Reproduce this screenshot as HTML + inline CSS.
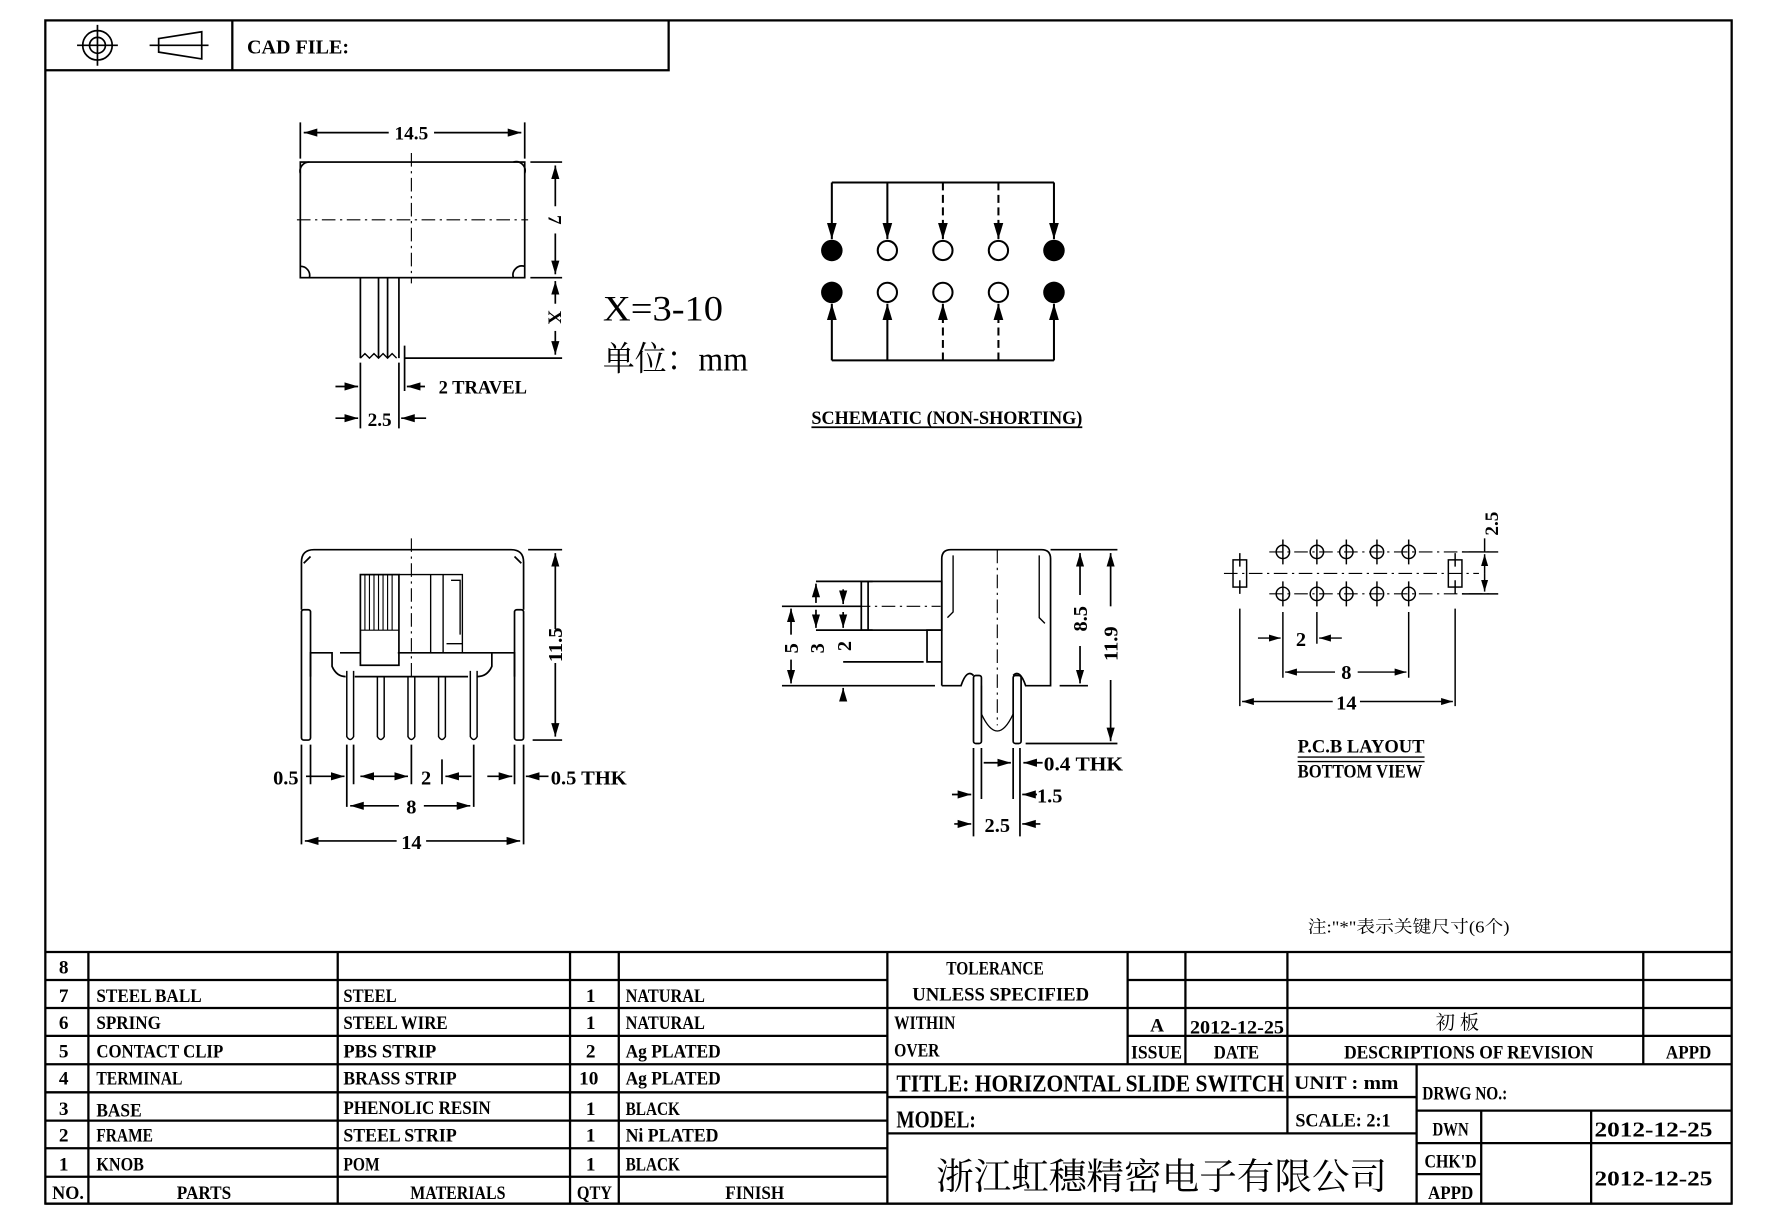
<!DOCTYPE html>
<html><head><meta charset="utf-8"><style>
html,body{margin:0;padding:0;background:#fff;}
svg{display:block;}
text{font-family:"Liberation Serif","Noto Serif CJK SC",serif;font-weight:bold;fill:#000;}
.cj{font-family:"Liberation Serif","Noto Serif CJK SC",serif;font-weight:normal;}
</style></head><body>
<svg width="1777" height="1224" viewBox="0 0 1568 1080" preserveAspectRatio="none" xmlns="http://www.w3.org/2000/svg">
<defs>
<marker id="a" viewBox="0 0 10 6" refX="10" refY="3" markerWidth="8" markerHeight="5" orient="auto-start-reverse"><path d="M0,0 L10,3 L0,6z" fill="#000"/></marker>
</defs>
<g fill="none" stroke="#000" stroke-width="1.5">
<rect x="40" y="18" width="1488" height="1044" stroke-width="2"/>
<path d="M40,62 H590 V18 M205,18 V62" stroke-width="2"/>
<circle cx="86" cy="40" r="13"/><circle cx="86" cy="40" r="7"/>
<path d="M68,40 H104 M86,22 V58"/>
<path d="M140,34 L178,28 V52 L140,46 Z M132,40 H184"/>
</g>
<text x="218" y="47" font-size="18" textLength="90" lengthAdjust="spacingAndGlyphs">CAD FILE:</text>

<!-- TOP VIEW -->
<g fill="none" stroke="#000" stroke-width="1.5">
<rect x="265" y="143" width="198" height="102"/>
<path d="M265,153 A8,8 0 0 1 273,143 M453,143 A8,8 0 0 1 463,153 M265,235 A8,8 0 0 1 273,245 M453,245 A8,8 0 0 1 463,235" />
<path d="M262,194 H466 M363,135 V250" stroke-width="1" stroke-dasharray="12,4,2,4"/>
<path d="M265,108 V140 M463,108 V140"/>
<path d="M343,117 H268" marker-end="url(#a)"/>
<path d="M383,117 H460" marker-end="url(#a)"/>
<path d="M468,143 H496 M468,245 H496 M357,316 H496"/>
<path d="M490,182 V146" marker-end="url(#a)"/>
<path d="M490,206 V242" marker-end="url(#a)"/>
<path d="M490,268 V248" marker-end="url(#a)"/>
<path d="M490,292 V313" marker-end="url(#a)"/>
<path d="M318,245 V316 M352,245 V316 M334,245 V316 M342,245 V316"/>
<path d="M318,316 l4,-4 l4,4 l4,-4 l4,4 l4,-4 l4,4 l4,-4 l4,4" stroke-width="1.2"/>
<path d="M357,305 V345 M318,320 V378 M352,320 V378"/>
<path d="M375,341 H359" marker-end="url(#a)"/>
<path d="M296,341 H316" marker-end="url(#a)"/>
<path d="M296,369 H316" marker-end="url(#a)"/>
<path d="M376,369 H354" marker-end="url(#a)"/>
</g>
<text x="363" y="123" font-size="17" text-anchor="middle">14.5</text>
<text x="0" y="0" font-size="17" transform="translate(484,194) rotate(90)" text-anchor="middle">7</text>
<text x="0" y="0" font-size="17" transform="translate(484,280) rotate(90)" text-anchor="middle">X</text>
<text x="387" y="347" font-size="17" textLength="78" lengthAdjust="spacingAndGlyphs">2 TRAVEL</text>
<text x="335" y="376" font-size="17" text-anchor="middle">2.5</text>
<text x="532" y="283" font-size="32" class="cj" textLength="106" lengthAdjust="spacingAndGlyphs">X=3-10</text>
<text x="532" y="327" font-size="30" class="cj" textLength="128" lengthAdjust="spacingAndGlyphs">单位：mm</text>

<!-- SCHEMATIC -->
<g fill="none" stroke="#000" stroke-width="1.8">
<path d="M734,161 H930 M734,318 H930"/>
<path d="M734,161 V211" marker-end="url(#a)"/>
<path d="M783,161 V211" marker-end="url(#a)"/>
<path d="M930,161 V211" marker-end="url(#a)"/>
<path d="M734,318 V268" marker-end="url(#a)"/>
<path d="M783,318 V268" marker-end="url(#a)"/>
<path d="M930,318 V268" marker-end="url(#a)"/>
<path d="M832,161 V211" stroke-dasharray="7,4" marker-end="url(#a)"/>
<path d="M881,161 V211" stroke-dasharray="7,4" marker-end="url(#a)"/>
<path d="M832,318 V268" stroke-dasharray="7,4" marker-end="url(#a)"/>
<path d="M881,318 V268" stroke-dasharray="7,4" marker-end="url(#a)"/>
<circle cx="783" cy="221" r="8.5"/><circle cx="832" cy="221" r="8.5"/><circle cx="881" cy="221" r="8.5"/>
<circle cx="783" cy="258" r="8.5"/><circle cx="832" cy="258" r="8.5"/><circle cx="881" cy="258" r="8.5"/>
<path d="M716,377 H955" stroke-width="1.5"/>
</g>
<g fill="#000"><circle cx="734" cy="221" r="9.5"/><circle cx="930" cy="221" r="9.5"/><circle cx="734" cy="258" r="9.5"/><circle cx="930" cy="258" r="9.5"/></g>
<text x="716" y="374" font-size="17" textLength="239" lengthAdjust="spacingAndGlyphs">SCHEMATIC (NON-SHORTING)</text>

<!-- FRONT VIEW -->
<g fill="none" stroke="#000" stroke-width="1.5">
<path d="M266,538 V496 Q266,485 277,485 H451 Q462,485 462,496 V538"/>
<path d="M268,497 l6,-6 M460,497 l-6,-6" />
<rect x="266" y="538" width="8" height="115" rx="2"/>
<rect x="454" y="538" width="8" height="115" rx="2"/>
<path d="M274,597 V576 H293 V588 Q297,597 305,597 M313,597 H413 M421,597 Q430,597 434,588 V576 H454 V597"/>
<path d="M300,576 H318 M351,576 H434"/>
<rect x="318" y="507" width="34" height="80"/>
<path d="M318,556 H352 M322,507 V556 M326,507 V556 M330,507 V556 M334,507 V556 M338,507 V556 M342,507 V556 M346,507 V556" stroke-width="1"/>
<path d="M352,507 H408 V576 M380,507 V576 M391,507 V576 M398,512 H406 V560 M394,568 H408" stroke-width="1.2"/>
<path d="M363,475 V600" stroke-width="1" stroke-dasharray="12,4,2,4"/>
<g stroke-width="1.3">
<path d="M306,592 V650 Q309,655 312,650 V592"/>
<path d="M333,597 V650 Q336,655 339,650 V597"/>
<path d="M360,597 V650 Q363,655 366,650 V597"/>
<path d="M387,597 V650 Q390,655 393,650 V597"/>
<path d="M415,592 V650 Q418,655 421,650 V592"/>
</g>
<path d="M466,485 H496 M470,653 H496"/>
<path d="M490,555 V488" marker-end="url(#a)"/>
<path d="M490,585 V650" marker-end="url(#a)"/>
<path d="M266,657 V745 M462,657 V745 M274,657 V692 M306,657 V712 M312,657 V692 M363,657 V692 M390,670 V692 M418,657 V712 M454,657 V692"/>
<path d="M270,685 H304" marker-end="url(#a)"/>
<path d="M318,685 H360" marker-start="url(#a)" marker-end="url(#a)"/>
<path d="M393,685 H416" marker-start="url(#a)"/>
<path d="M430,685 H452" marker-end="url(#a)"/>
<path d="M484,685 H464" marker-end="url(#a)"/>
<path d="M352,711 H309" marker-end="url(#a)"/><path d="M374,711 H415" marker-end="url(#a)"/>
<path d="M350,742 H269" marker-end="url(#a)"/><path d="M376,742 H459" marker-end="url(#a)"/>
</g>
<text x="0" y="0" font-size="18" transform="translate(496,569) rotate(-90)" text-anchor="middle">11.5</text>
<text x="241" y="692" font-size="18">0.5</text>
<text x="376" y="692" font-size="18" text-anchor="middle">2</text>
<text x="486" y="692" font-size="18" textLength="67" lengthAdjust="spacingAndGlyphs">0.5 THK</text>
<text x="363" y="718" font-size="18" text-anchor="middle">8</text>
<text x="363" y="749" font-size="18" text-anchor="middle">14</text>

<!-- SIDE VIEW -->
<g fill="none" stroke="#000" stroke-width="1.5">
<path d="M831,605 V493 Q831,485 839,485 H919 Q927,485 927,493 V605 H905 Q900,590 894,596 M859,596 Q853,590 848,605 H831"/>
<path d="M841,490 V540 L836,545 M917,490 V545 L922,550" stroke-width="1.2"/>
<rect x="760" y="513" width="71" height="43"/>
<path d="M766,513 V556"/>
<path d="M831,556 H818 V584 H831"/>
<path d="M880,485 V640" stroke-width="1" stroke-dasharray="12,4,2,4"/>
<path d="M690,535 H830" stroke-width="1" stroke-dasharray="12,4,2,4"/>
<rect x="859" y="596" width="7" height="60" rx="2"/>
<rect x="894" y="596" width="7" height="60" rx="2"/>
<path d="M866,605 V630 Q880,660 894,630 V605" stroke-width="1.2"/>
<path d="M720,513 H770 M690,535 H760 M720,556 H770 M744,584 H815 M690,605 H825"/>
<path d="M698,560 V537" marker-end="url(#a)"/>
<path d="M698,582 V603" marker-end="url(#a)"/>
<path d="M720,532 V515" marker-end="url(#a)"/>
<path d="M720,538 V554" marker-end="url(#a)"/>
<path d="M744,520 V533" marker-end="url(#a)"/>
<path d="M744,540 V554" marker-end="url(#a)"/>
<path d="M744,618 V607" marker-end="url(#a)"/>
<path d="M927,485 H986 M935,605 H960 M905,656 H986"/>
<path d="M953,525 V488" marker-end="url(#a)"/>
<path d="M953,570 V603" marker-end="url(#a)"/>
<path d="M980,535 V488" marker-end="url(#a)"/>
<path d="M980,600 V654" marker-end="url(#a)"/>
<path d="M859,660 V738 M866,660 V705 M894,660 V705 M900,660 V738"/>
<path d="M868,673 H892" marker-end="url(#a)"/>
<path d="M920,673 H903" marker-end="url(#a)"/>
<path d="M840,701 H857" marker-end="url(#a)"/>
<path d="M915,701 H902" marker-end="url(#a)"/>
<path d="M842,727 H857" marker-end="url(#a)"/>
<path d="M918,727 H902" marker-end="url(#a)"/>
</g>
<text x="0" y="0" font-size="18" transform="translate(704,572) rotate(-90)" text-anchor="middle">5</text>
<text x="0" y="0" font-size="18" transform="translate(727,572) rotate(-90)" text-anchor="middle">3</text>
<text x="0" y="0" font-size="18" transform="translate(751,570) rotate(-90)" text-anchor="middle">2</text>
<text x="0" y="0" font-size="18" transform="translate(959,546) rotate(-90)" text-anchor="middle">8.5</text>
<text x="0" y="0" font-size="18" transform="translate(986,568) rotate(-90)" text-anchor="middle">11.9</text>
<text x="921" y="680" font-size="18" textLength="70" lengthAdjust="spacingAndGlyphs">0.4 THK</text>
<text x="915" y="708" font-size="18">1.5</text>
<text x="880" y="734" font-size="18" text-anchor="middle">2.5</text>

<!-- PCB LAYOUT -->
<g fill="none" stroke="#000" stroke-width="1.3">
<path d="M1120,487 H1315 M1120,524 H1315" stroke-dasharray="12,4,2,4" stroke-width="1"/>
<path d="M1080,506 H1305" stroke-dasharray="12,4,2,4" stroke-width="1"/>
<circle cx="1132" cy="487" r="5.9"/><circle cx="1162" cy="487" r="5.9"/><circle cx="1188" cy="487" r="5.9"/><circle cx="1215" cy="487" r="5.9"/><circle cx="1243" cy="487" r="5.9"/>
<circle cx="1132" cy="524" r="5.9"/><circle cx="1162" cy="524" r="5.9"/><circle cx="1188" cy="524" r="5.9"/><circle cx="1215" cy="524" r="5.9"/><circle cx="1243" cy="524" r="5.9"/>
<path d="M1132,476 V498 M1162,476 V498 M1188,476 V498 M1215,476 V498 M1243,476 V498 M1132,513 V535 M1162,513 V535 M1188,513 V535 M1215,513 V535 M1243,513 V535"/>
<rect x="1088" y="494" width="12" height="24"/><rect x="1278" y="494" width="12" height="24"/>
<path d="M1094,488 V500 M1094,512 V524 M1284,488 V500 M1284,512 V524"/>
<path d="M1094,537 V623 M1284,537 V623 M1132,540 V598 M1162,540 V568 M1243,540 V598"/>
<path d="M1110,563 H1130" marker-end="url(#a)"/>
<path d="M1184,563 H1164" marker-end="url(#a)"/>
<path d="M1178,593 H1134" marker-end="url(#a)"/><path d="M1198,593 H1241" marker-end="url(#a)"/>
<path d="M1176,619 H1096" marker-end="url(#a)"/><path d="M1200,619 H1282" marker-end="url(#a)"/>
<path d="M1290,487 H1322 M1290,524 H1322"/>
<path d="M1310,506 V489" marker-end="url(#a)"/>
<path d="M1310,506 V522" marker-end="url(#a)"/>
<path d="M1310,475 V487"/>
<path d="M1145,668 H1257 M1145,672 H1257" stroke-width="1.2"/>
</g>
<text x="1148" y="570" font-size="18" text-anchor="middle">2</text>
<text x="1188" y="599" font-size="18" text-anchor="middle">8</text>
<text x="1188" y="626" font-size="18" text-anchor="middle">14</text>
<text x="0" y="0" font-size="17" transform="translate(1322,462) rotate(-90)" text-anchor="middle">2.5</text>
<text x="1145" y="664" font-size="17" textLength="112" lengthAdjust="spacingAndGlyphs">P.C.B LAYOUT</text>
<text x="1145" y="686" font-size="17" textLength="110" lengthAdjust="spacingAndGlyphs">BOTTOM VIEW</text>
<text x="1154" y="823" font-size="15" class="cj" textLength="178" lengthAdjust="spacingAndGlyphs">注:"*"表示关键尺寸(6个)</text>

<!-- TABLE -->
<g fill="none" stroke="#000" stroke-width="2">
<path d="M40,840 H1528 M40,1062 H1528"/>
<path d="M40,864.7 H783 M40,889.4 H783 M40,914 H783 M40,939 H783 M40,963.8 H783 M40,988.8 H783 M40,1013.2 H783 M40,1038.3 H783"/>
<path d="M78,840 V1062 M298,840 V1062 M503,840 V1062 M546,840 V1062 M783,840 V1062"/>
<path d="M995,864.7 H1528 M783,889.4 H1528 M995,914 H1528 M783,939 H1528"/>
<path d="M995,840 V939 M1046,840 V939 M1136,840 V939 M1450,840 V939"/>
<path d="M783,968 H1250 M783,1000 H1250 M1136,939 V1000 M1250,939 V1062"/>
<path d="M1250,980 H1528 M1250,1008.6 H1528 M1250,1036 H1307 M1307,980 V1062 M1404,980 V1062"/>
</g>
<g font-size="17">
<text x="52" y="859">8</text>
<text x="52" y="884">7</text><text x="85" y="884" textLength="93" lengthAdjust="spacingAndGlyphs">STEEL BALL</text><text x="303" y="884" textLength="47" lengthAdjust="spacingAndGlyphs">STEEL</text><text x="517" y="884">1</text><text x="552" y="884" textLength="70" lengthAdjust="spacingAndGlyphs">NATURAL</text>
<text x="52" y="908">6</text><text x="85" y="908" textLength="57" lengthAdjust="spacingAndGlyphs">SPRING</text><text x="303" y="908" textLength="92" lengthAdjust="spacingAndGlyphs">STEEL WIRE</text><text x="517" y="908">1</text><text x="552" y="908" textLength="70" lengthAdjust="spacingAndGlyphs">NATURAL</text>
<text x="52" y="933">5</text><text x="85" y="933" textLength="112" lengthAdjust="spacingAndGlyphs">CONTACT CLIP</text><text x="303" y="933" textLength="82" lengthAdjust="spacingAndGlyphs">PBS STRIP</text><text x="517" y="933">2</text><text x="552" y="933" textLength="84" lengthAdjust="spacingAndGlyphs">Ag PLATED</text>
<text x="52" y="957">4</text><text x="85" y="957" textLength="76" lengthAdjust="spacingAndGlyphs">TERMINAL</text><text x="303" y="957" textLength="100" lengthAdjust="spacingAndGlyphs">BRASS STRIP</text><text x="511" y="957">10</text><text x="552" y="957" textLength="84" lengthAdjust="spacingAndGlyphs">Ag PLATED</text>
<text x="52" y="984">3</text><text x="85" y="985" textLength="40" lengthAdjust="spacingAndGlyphs">BASE</text><text x="303" y="983" textLength="130" lengthAdjust="spacingAndGlyphs">PHENOLIC RESIN</text><text x="517" y="984">1</text><text x="552" y="984" textLength="48" lengthAdjust="spacingAndGlyphs">BLACK</text>
<text x="52" y="1007">2</text><text x="85" y="1007" textLength="50" lengthAdjust="spacingAndGlyphs">FRAME</text><text x="303" y="1007" textLength="100" lengthAdjust="spacingAndGlyphs">STEEL STRIP</text><text x="517" y="1007">1</text><text x="552" y="1007" textLength="82" lengthAdjust="spacingAndGlyphs">Ni PLATED</text>
<text x="52" y="1033">1</text><text x="85" y="1033" textLength="42" lengthAdjust="spacingAndGlyphs">KNOB</text><text x="303" y="1033" textLength="32" lengthAdjust="spacingAndGlyphs">POM</text><text x="517" y="1033">1</text><text x="552" y="1033" textLength="48" lengthAdjust="spacingAndGlyphs">BLACK</text>
<text x="46" y="1058" textLength="28" lengthAdjust="spacingAndGlyphs">NO.</text><text x="180" y="1058" text-anchor="middle" textLength="48" lengthAdjust="spacingAndGlyphs">PARTS</text><text x="404" y="1058" text-anchor="middle" textLength="84" lengthAdjust="spacingAndGlyphs">MATERIALS</text><text x="509" y="1058" textLength="31" lengthAdjust="spacingAndGlyphs">QTY</text><text x="666" y="1058" text-anchor="middle" textLength="52" lengthAdjust="spacingAndGlyphs">FINISH</text>
<text x="878" y="860" text-anchor="middle" textLength="86" lengthAdjust="spacingAndGlyphs">TOLERANCE</text>
<text x="883" y="883" text-anchor="middle" textLength="156" lengthAdjust="spacingAndGlyphs">UNLESS  SPECIFIED</text>
<text x="789" y="908" textLength="54" lengthAdjust="spacingAndGlyphs">WITHIN</text>
<text x="789" y="932" textLength="40" lengthAdjust="spacingAndGlyphs">OVER</text>
<text x="1021" y="910" text-anchor="middle">A</text>
<text x="1050" y="912" textLength="83" lengthAdjust="spacingAndGlyphs">2012-12-25</text>
<text x="1286" y="908" text-anchor="middle" class="cj" font-size="17">初 板</text>
<text x="998" y="934" textLength="45" lengthAdjust="spacingAndGlyphs">ISSUE</text>
<text x="1091" y="934" text-anchor="middle" textLength="40" lengthAdjust="spacingAndGlyphs">DATE</text>
<text x="1296" y="934" text-anchor="middle" textLength="220" lengthAdjust="spacingAndGlyphs">DESCRIPTIONS OF REVISION</text>
<text x="1490" y="934" text-anchor="middle" textLength="40" lengthAdjust="spacingAndGlyphs">APPD</text>
<text x="791" y="963" font-size="21" textLength="342" lengthAdjust="spacingAndGlyphs">TITLE: HORIZONTAL SLIDE SWITCH</text>
<text x="1142" y="961" textLength="92" lengthAdjust="spacingAndGlyphs">UNIT : mm</text>
<text x="1255" y="970" textLength="75" lengthAdjust="spacingAndGlyphs">DRWG NO.:</text>
<text x="791" y="995" font-size="21" textLength="70" lengthAdjust="spacingAndGlyphs">MODEL:</text>
<text x="1143" y="994" textLength="84" lengthAdjust="spacingAndGlyphs">SCALE: 2:1</text>
<text x="1280" y="1002" text-anchor="middle" textLength="32" lengthAdjust="spacingAndGlyphs">DWN</text>
<text x="1407" y="1003" font-size="19" textLength="104" lengthAdjust="spacingAndGlyphs">2012-12-25</text>
<text x="1280" y="1030" text-anchor="middle" textLength="46" lengthAdjust="spacingAndGlyphs">CHK'D</text>
<text x="1280" y="1058" text-anchor="middle" textLength="40" lengthAdjust="spacingAndGlyphs">APPD</text>
<text x="1407" y="1046" font-size="19" textLength="104" lengthAdjust="spacingAndGlyphs">2012-12-25</text>
<text x="826" y="1049" font-size="32" class="cj" textLength="398" lengthAdjust="spacingAndGlyphs">浙江虹穗精密电子有限公司</text>
</g>
</svg>
</body></html>
